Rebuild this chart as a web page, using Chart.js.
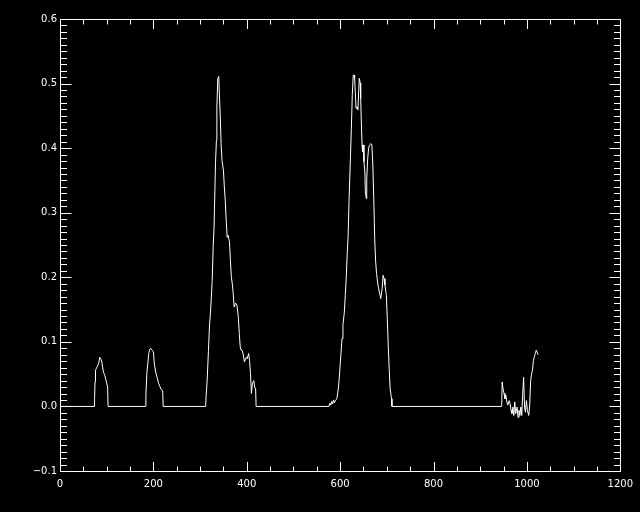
<!DOCTYPE html>
<html>
<head>
<meta charset="utf-8">
<script src="https://cdn.jsdelivr.net/npm/chart.js@4/dist/chart.umd.min.js"></script>
<style>
html,body{margin:0;padding:0;background:#000;}
#wrap{width:640px;height:512px;position:relative;background:#000;}
</style>
</head>
<body>
<div id="wrap"><canvas id="c" width="640" height="512"></canvas></div>
<script>
// Sample positions (x) and signal values (y)
const xValues = [
  0,73,74,75,76,78,80,83,85,88,90,93,96,98,100,102,103,
  183,184,186,188,190,192,194,197,200,202,205,208,211,214,216,220,221,
  312,313,315,318,320,323,326,328,330,333,335,336,338,340,341,343,345,347,350,352,354,356,358,360,363,365,367,369,371,373,376,379,382,384,386,388,390,392,395,399,401,404,406,408,410,412,415,417,419,420,
  576,578,580,582,584,586,588,590,593,596,598,600,602,604,606,609,611,613,615,617,619,622,624,626,628,630,631,633,634,636,638,640,641,643,644,646,647,648,650,651,653,654,656,657,659,661,663,666,668,670,672,674,676,678,681,684,687,690,692,694,696,699,701,703,705,707,710,711,
  946,947,949,951,953,955,957,959,962,964,966,968,970,972,974,976,979,981,983,985,987,989,991,993,995,997,999,1001,1004,1006,1008,1010,1012,1014,1016,1018,1020,1022,1024
];
const yValues = [
  0,0,0.012,0.038,0.056,0.059,0.062,0.067,0.076,0.073,0.067,0.053,0.048,0.042,0.036,0.030,0,
  0,0.017,0.051,0.066,0.082,0.088,0.090,0.087,0.085,0.066,0.053,0.045,0.036,0.031,0.027,0.024,0,
  0,0.017,0.038,0.087,0.123,0.154,0.195,0.247,0.278,0.376,0.412,0.464,0.508,0.511,0.490,0.454,0.407,0.381,0.366,0.340,0.319,0.288,0.262,0.265,0.255,0.226,0.200,0.190,0.175,0.154,0.160,0.157,0.138,0.113,0.092,0.087,0.087,0.082,0.069,0.076,0.074,0.082,0.071,0.051,0.020,0.035,0.040,0.030,0.027,0,
  0,0.005,0.002,0.008,0.004,0.010,0.006,0.009,0.012,0.027,0.043,0.064,0.084,0.105,0.126,0.146,0.172,0.198,0.234,0.262,0.317,0.384,0.430,0.482,0.513,0.513,0.508,0.478,0.462,0.464,0.459,0.493,0.508,0.501,0.477,0.425,0.405,0.394,0.405,0.379,0.363,0.332,0.322,0.353,0.384,0.400,0.405,0.407,0.405,0.374,0.322,0.260,0.225,0.206,0.188,0.177,0.167,0.183,0.203,0.198,0.188,0.172,0.136,0.095,0.059,0.028,0.012,0,
  0,0.038,0.027,0.020,0.012,0.017,0.007,0.002,0.009,0.004,-0.006,-0.011,-0.001,-0.014,0.007,-0.011,-0.001,-0.017,-0.006,-0.014,-0.001,-0.014,0.020,0.045,-0.001,-0.009,0.009,-0.006,-0.014,0.002,0.040,0.050,0.056,0.071,0.077,0.082,0.087,0.084,0.080
];
const xTickLabels = [0,200,400,600,800,1000,1200];
const yTickLabels = [-0.1,0.0,0.1,0.2,0.3,0.4,0.5,0.6];

const points = xValues.map((x,i)=>({x:x,y:yValues[i]}));

Chart.defaults.font.family = "'DejaVu Sans', sans-serif";
Chart.defaults.font.size = 10;
Chart.defaults.color = '#ffffff';

const framePlugin = {
  id:'frame',
  afterDraw(chart){
    const ctx = chart.ctx, a = chart.chartArea;
    const xs = chart.scales.x, ys = chart.scales.y;
    ctx.save();
    ctx.strokeStyle = '#ffffff';
    ctx.lineWidth = 1;
    const L = Math.round(a.left)+0.5, R = Math.round(a.right)+0.5, T = Math.round(a.top)+0.5, B = Math.round(a.bottom)+0.5;
    ctx.beginPath();
    ctx.rect(L, T, R-L, B-T);
    // x ticks: minor every 50, major every 200
    for(let v=0; v<=1200; v+=50){
      const p = Math.round(xs.getPixelForValue(v))+0.5;
      const len = (v%200===0) ? 9.5 : 5;
      ctx.moveTo(p,B); ctx.lineTo(p,B-len);
      ctx.moveTo(p,T); ctx.lineTo(p,T+len);
    }
    // y ticks: minor every 0.01, major every 0.1
    for(let i=-10; i<=60; i++){
      const p = Math.round(ys.getPixelForValue(i/100))+0.5;
      const len = (i%10===0) ? 11 : 6.5;
      ctx.moveTo(L,p); ctx.lineTo(L+len,p);
      ctx.moveTo(R,p); ctx.lineTo(R-len,p);
    }
    ctx.stroke();
    ctx.restore();
  }
};

new Chart(document.getElementById('c'), {
  type:'line',
  data:{datasets:[{
    data:points,
    borderColor:'#ffffff',
    borderWidth:1,
    pointRadius:0,
    tension:0,
    fill:false
  }]},
  options:{
    responsive:false,
    animation:false,
    events:[],
    layout:{padding:{top:19,right:18,left:0,bottom:0}},
    plugins:{legend:{display:false},tooltip:{enabled:false}},
    scales:{
      x:{
        type:'linear', min:0, max:1200,
        afterFit(s){ s.height = 41; },
        afterBuildTicks(s){ s.ticks = xTickLabels.map(v=>({value:v})); },
        grid:{display:false, drawTicks:false},
        border:{display:false},
        ticks:{color:'#ffffff', padding:7, maxRotation:0, autoSkip:false,
          callback:v=>String(v)}
      },
      y:{
        type:'linear', min:-0.1, max:0.6,
        afterFit(s){ s.width = 60; },
        afterBuildTicks(s){ s.ticks = yTickLabels.map(v=>({value:v})); },
        grid:{display:false, drawTicks:false},
        border:{display:false},
        ticks:{color:'#ffffff', padding:3, autoSkip:false,
          callback:v=>{ const r=Math.round(v*10)/10; return (r<0?'\u2212':'')+Math.abs(r).toFixed(1); }}
      }
    }
  },
  plugins:[framePlugin]
});
</script>
</body>
</html>
